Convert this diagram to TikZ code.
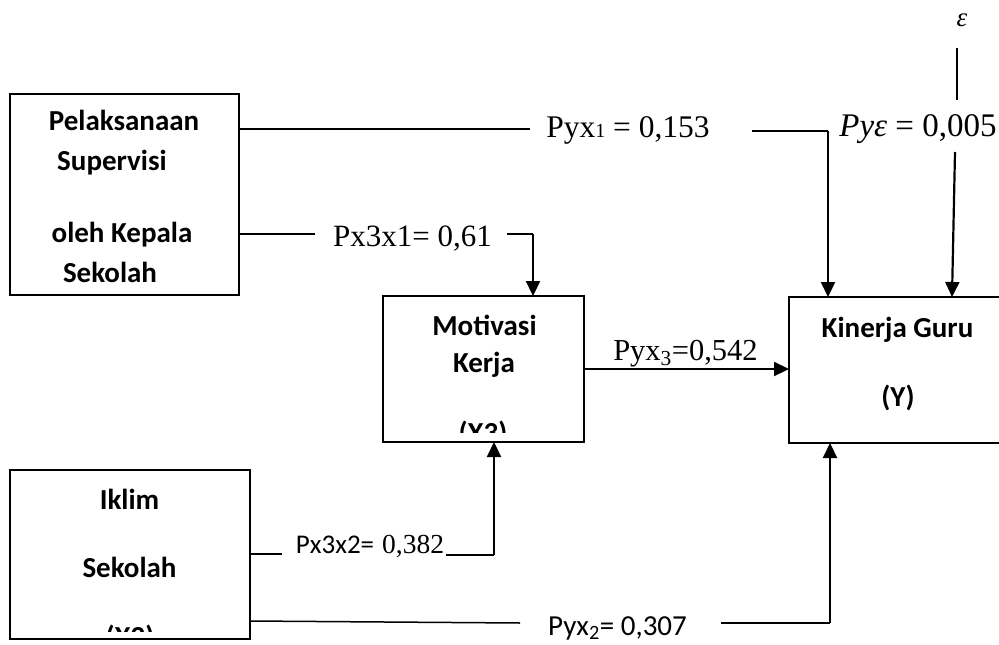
\documentclass[tikz,border=0pt]{standalone}
\usepackage{fontspec}
\setmainfont{Liberation Serif}
\newfontfamily\boxfont{Carlito}
\usetikzlibrary{arrows.meta}
\begin{document}
\begin{tikzpicture}[x=1pt,y=-1pt,
  box/.style={draw, line width=1.8pt, inner sep=0pt, outer sep=0pt},
  boxtxt/.style={inner sep=0pt, anchor=base, font=\boxfont\bfseries\fontsize{29}{34}\selectfont},
  lbl/.style={inner sep=0pt, anchor=base},
  ln/.style={line width=1.5pt},
  arr/.style={line width=2.2pt, -{Triangle[length=15pt,width=14pt]}}]
\useasboundingbox (0,0) rectangle (999,645);

% boxes (the performance box runs past the right margin)
\node[box, minimum width=229pt, minimum height=201pt] (sup) at (124.5,194.5) {};
\node[box, minimum width=201pt, minimum height=146pt] (mot) at (483.5,369) {};
\node[box, minimum width=220pt, minimum height=146pt] (kin) at (899,370) {};
\node[box, minimum width=240pt, minimum height=169pt] (ikl) at (130,554.5) {};

% box texts
\node[boxtxt] (sup1) at (124,130) {Pelaksanaan};
\node[boxtxt] (sup2) at (112,170) {Supervisi};
\node[boxtxt] (sup3) at (122,242) {oleh Kepala};
\node[boxtxt] (sup4) at (110,282) {Sekolah};

\node[boxtxt] (mot1) at (484.5,335) {Motivasi};
\node[boxtxt] (mot2) at (484,372) {Kerja};
\begin{scope}
  \clip (383,296) rectangle (584,432);
  \node[boxtxt] (mot3) at (483,442) {(X3)};
\end{scope}

\node[boxtxt] (kin1) at (897.5,337) {Kinerja Guru};
\node[boxtxt] (kin2) at (898,406) {(Y)};

\node[boxtxt] (ikl1) at (129.5,509) {Iklim};
\node[boxtxt] (ikl2) at (129.5,577) {Sekolah};
\begin{scope}
  \clip (10,470) rectangle (250,631);
  \node[boxtxt] (ikl3) at (130,646) {(X2)};
\end{scope}

% path labels
\node[lbl, font=\fontsize{31.5}{36}\selectfont] (l1) at (628,137)
  {Pyx{\fontsize{20}{20}\selectfont 1} = 0,153};
\node[lbl, font=\fontsize{31}{36}\selectfont] (l2) at (412.5,246) {Px3x1= 0,61};
\node[lbl, font=\fontsize{30.5}{35}\selectfont] (l3) at (685.5,360) {Pyx\textsubscript{3}=0,542};
\node[lbl] (l4) at (370,553)
  {{\boxfont\fontsize{27}{32}\selectfont Px3x2=}\hspace{8pt}{\fontsize{27.5}{32}\selectfont 0,382}};
\node[lbl, font=\boxfont\fontsize{29}{34}\selectfont] (l5) at (617.5,635) {Pyx\textsubscript{2}= 0,307};
\node[lbl, font=\fontsize{33}{38}\selectfont] (l6) at (918,136) {\textit{Pyε} = 0,005};
\node[lbl, font=\itshape\fontsize{27}{32}\selectfont] (eps) at (962,27) {ε};

% Pyx1: supervision -> performance
\coordinate (a1) at (530,129);
\coordinate (a2) at (752,131);
\coordinate (a3) at (828,131);
\draw[ln] (sup.east |- a1) -- (a1);
\draw[ln] (a2) -- (a3);
\draw[arr] (a3) -- (a3 |- kin.north);

% Px3x1: supervision -> motivation
\coordinate (b1) at (315,234);
\coordinate (b2) at (507,234);
\coordinate (b3) at (533,234);
\draw[ln] (sup.east |- b1) -- (b1);
\draw[ln] (b2) -- (b3);
\draw[arr] (b3) -- (b3 |- mot.north);

% Pyx3: motivation -> performance
\draw[arr] (mot.east) -- (mot.east -| kin.west);

% Px3x2: climate -> motivation
\coordinate (c1) at (282,554);
\coordinate (c2) at (446,555);
\coordinate (c3) at (494,555);
\draw[ln] (ikl.east |- c1) -- (c1);
\draw[ln] (c2) -- (c3);
\draw[arr] (c3) -- (c3 |- mot.south);

% Pyx2: climate -> performance
\coordinate (d0) at (250,621);
\coordinate (d1) at (520,623);
\coordinate (d2) at (721,623);
\coordinate (d3) at (830,623);
\draw[ln] (d0) -- (d1);
\draw[ln] (d2) -- (d3);
\draw[arr] (d3) -- (d3 |- kin.south);

% residual
\coordinate (e1) at (957,48);
\coordinate (e2) at (957,100);
\coordinate (e3) at (955,152);
\draw[ln] (e1) -- (e2);
\draw[arr] (e3) -- ([xshift=-3pt]e3 |- kin.north);
\end{tikzpicture}
\end{document}
